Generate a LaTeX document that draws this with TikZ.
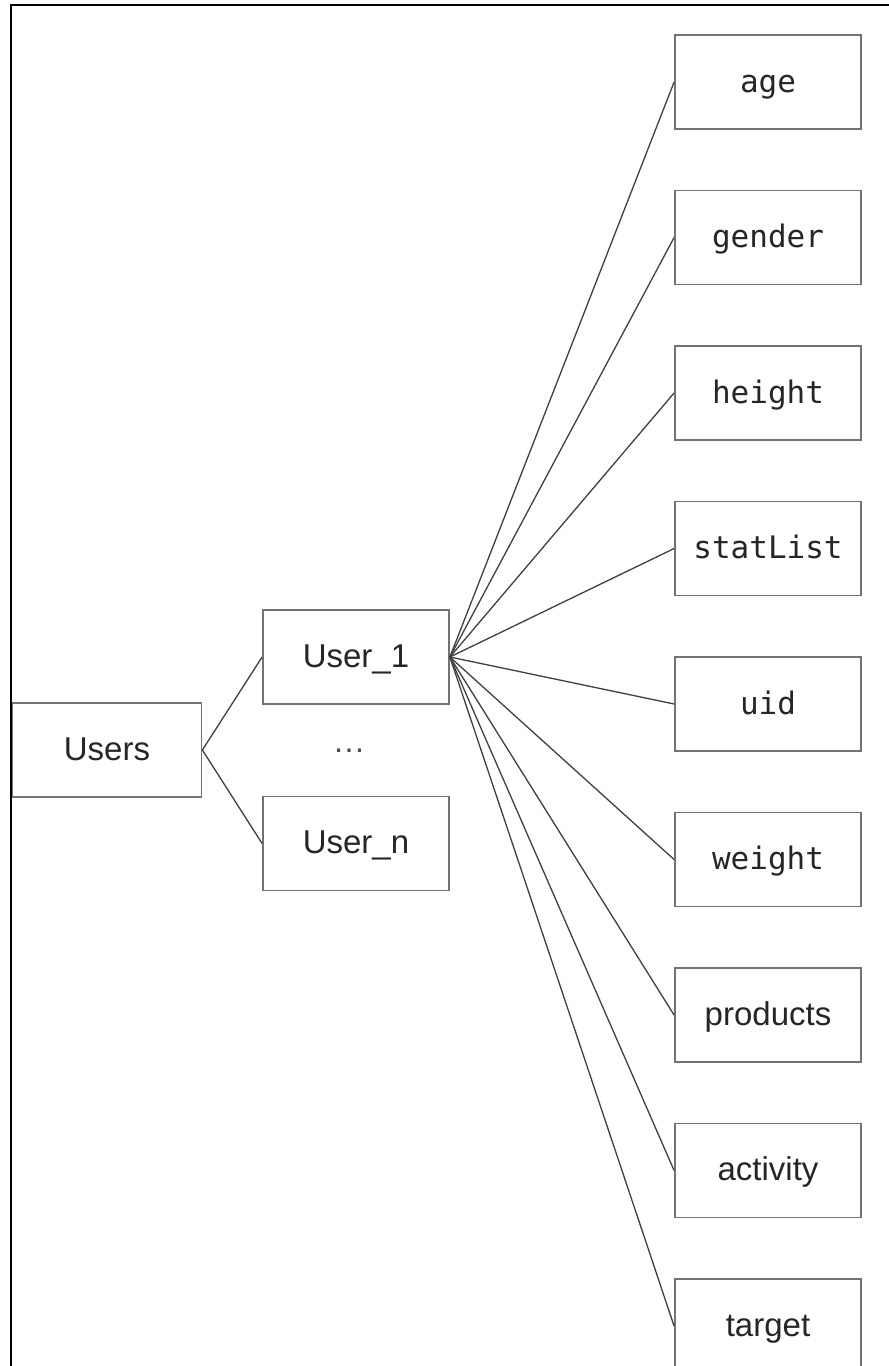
\documentclass[tikz,border=0pt]{standalone}
\usepackage{fontspec}
\setmainfont{Liberation Sans}
\newfontfamily\codefont{DejaVu Sans Mono}
\begin{document}
\begin{tikzpicture}[x=1pt,y=-1pt,
  box/.style={draw=black!55,line width=1.8pt,fill=white,minimum width=186pt,minimum height=94pt,
    inner sep=0pt,text height=24pt,text depth=4pt,text=black!85},
  plain/.style={font=\fontsize{33}{38}\selectfont},
  code/.style={font=\codefont\fontsize{31}{36}\selectfont},
  link/.style={draw=black!75,line width=1.3pt}]
\useasboundingbox (0,0) rectangle (889,1366);
\fill[white] (0,0) rectangle (889,1366);

% frame along the top and left edges
\draw[black,line width=2.8pt] (11,1366) -- (11,5) -- (889,5);

% root and user entries
\node[box,plain,minimum width=189pt] (users) at (107,750) {Users};
\node[box,plain] (u1) at (356,657) {User\_1};
\node[box,plain] (un) at (356,843.5) {User\_n};
\node[plain,text=black!70,inner sep=0pt] (dots) at (349,751) {…};

% attributes of a user
\node[box,code]  (age)      at (768,82)     {age};
\node[box,code]  (gender)   at (768,237.5)  {gender};
\node[box,code]  (height)   at (768,393)    {height};
\node[box,code]  (statlist) at (768,548.5)  {statList};
\node[box,code]  (uid)      at (768,704)    {uid};
\node[box,code]  (weight)   at (768,859.5)  {weight};
\node[box,plain] (products) at (768,1015)   {products};
\node[box,plain] (activity) at (768,1170.5) {activity};
\node[box,plain] (target)   at (768,1326)   {target};

% connectors
\draw[link] (users.east) -- (u1.west);
\draw[link] (users.east) -- (un.west);
\foreach \n in {age,gender,height,statlist,uid,weight,products,activity,target}
  \draw[link] (u1.east) -- (\n.west);

% redraw the frame's left edge over the root box
\draw[black,line width=2.8pt] (11,1366) -- (11,5);
\end{tikzpicture}
\end{document}
